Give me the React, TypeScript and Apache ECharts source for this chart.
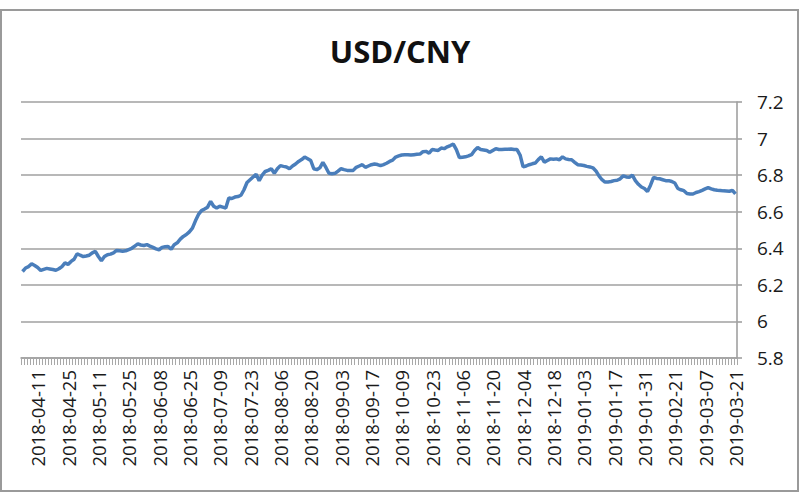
import React, { useEffect, useRef } from "react";
import * as echarts from "echarts";

const START_DATE = "2018-04-02";
const END_DATE = "2019-03-21";
const HOLIDAYS = [
  "2018-04-05", "2018-04-06", "2018-04-30", "2018-05-01", "2018-06-18",
  "2018-09-24", "2018-10-01", "2018-10-02", "2018-10-03", "2018-10-04",
  "2018-10-05", "2018-12-31", "2019-01-01", "2019-02-04", "2019-02-05",
  "2019-02-06", "2019-02-07", "2019-02-08",
];

const usdCny = [
  6.273, 6.292, 6.300, 6.315, 6.306, 6.295, 6.279, 6.285, 6.290, 6.287,
  6.284, 6.280, 6.288, 6.300, 6.320, 6.312, 6.328, 6.340, 6.370, 6.362,
  6.355, 6.358, 6.362, 6.375, 6.383, 6.355, 6.332, 6.355, 6.365, 6.368,
  6.375, 6.388, 6.386, 6.384, 6.386, 6.393, 6.400, 6.412, 6.424, 6.418,
  6.415, 6.420, 6.412, 6.405, 6.397, 6.392, 6.405, 6.408, 6.410, 6.395,
  6.420, 6.430, 6.450, 6.465, 6.475, 6.490, 6.510, 6.550, 6.585, 6.606,
  6.615, 6.625, 6.657, 6.630, 6.620, 6.630, 6.625, 6.620, 6.675, 6.672,
  6.680, 6.683, 6.690, 6.720, 6.760, 6.775, 6.790, 6.805, 6.770, 6.800,
  6.820, 6.826, 6.835, 6.810, 6.835, 6.852, 6.848, 6.845, 6.835, 6.850,
  6.861, 6.875, 6.885, 6.899, 6.890, 6.880, 6.835, 6.830, 6.840, 6.870,
  6.842, 6.810, 6.808, 6.810, 6.822, 6.835, 6.830, 6.826, 6.825, 6.826,
  6.843, 6.850, 6.857, 6.843, 6.850, 6.857, 6.861, 6.858, 6.852, 6.858,
  6.865, 6.875, 6.882, 6.899, 6.905, 6.910, 6.911, 6.912, 6.910, 6.912,
  6.914, 6.915, 6.928, 6.930, 6.920, 6.940, 6.937, 6.935, 6.948, 6.945,
  6.955, 6.962, 6.970, 6.940, 6.896, 6.898, 6.900, 6.905, 6.912, 6.935,
  6.951, 6.940, 6.938, 6.935, 6.925, 6.935, 6.945, 6.940, 6.940, 6.941,
  6.942, 6.943, 6.940, 6.940, 6.910, 6.845, 6.850, 6.857, 6.862, 6.866,
  6.885, 6.900, 6.871, 6.880, 6.889, 6.887, 6.889, 6.884, 6.900, 6.889,
  6.886, 6.884, 6.870, 6.857, 6.855, 6.853, 6.848, 6.845, 6.840, 6.823,
  6.796, 6.775, 6.762, 6.763, 6.765, 6.770, 6.772, 6.780, 6.796, 6.790,
  6.788, 6.800, 6.770, 6.750, 6.735, 6.727, 6.710, 6.745, 6.788, 6.782,
  6.780, 6.775, 6.770, 6.770, 6.765, 6.757, 6.727, 6.720, 6.715, 6.700,
  6.697, 6.697, 6.705, 6.710, 6.717, 6.725, 6.732, 6.725, 6.720, 6.717,
  6.716, 6.714, 6.713, 6.712, 6.717, 6.697,
];

function tradingDays(start: string, end: string, holidays: string[]): string[] {
  const out: string[] = [];
  const d = new Date(start + "T00:00:00Z");
  const e = new Date(end + "T00:00:00Z");
  while (d.getTime() <= e.getTime()) {
    const s = d.toISOString().slice(0, 10);
    const wd = d.getUTCDay();
    if (wd !== 0 && wd !== 6 && holidays.indexOf(s) < 0) out.push(s);
    d.setUTCDate(d.getUTCDate() + 1);
  }
  return out;
}

const dates = tradingDays(START_DATE, END_DATE, HOLIDAYS);

const FONT = "'Open Sans', 'Noto Sans', sans-serif";

export default function App() {
  const ref = useRef<HTMLDivElement>(null);
  useEffect(() => {
    if (!ref.current) return;
    const chart = echarts.init(ref.current, null, { renderer: "svg" });
    chart.setOption({
      animation: false,
      backgroundColor: "#ffffff",
      title: {
        text: "USD/CNY",
        left: "center",
        top: 30,
        textStyle: { fontFamily: FONT, fontSize: 31, fontWeight: "bold", color: "#111" },
      },
      graphic: [
        {
          type: "rect",
          shape: { x: 1, y: 10, width: 797, height: 481 },
          style: { fill: "none", stroke: "#9a9a9a", lineWidth: 2 },
          silent: true,
        },
      ],
      grid: { left: 21, right: 63, top: 102, bottom: 142, containLabel: false },
      xAxis: {
        type: "category",
        data: dates,
        boundaryGap: true,
        axisLine: { show: true, lineStyle: { color: "#a0a0a0", width: 1.6 } },
        axisTick: { show: true, interval: 0, length: 7, lineStyle: { color: "#a8a8a8", width: 1 } },
        axisLabel: {
          interval: (index: number) => (index - 5) % 10 === 0,
          rotate: 90,
          margin: 12,
          fontFamily: FONT,
          fontSize: 18.5,
          color: "#1a1a1a",
        },
        splitLine: { show: false },
      },
      yAxis: {
        type: "value",
        position: "right",
        min: 5.8,
        max: 7.2,
        interval: 0.2,
        axisLine: { show: true, lineStyle: { color: "#a0a0a0", width: 1.6 } },
        axisTick: { show: true, length: 5, lineStyle: { color: "#a0a0a0", width: 1.6 } },
        axisLabel: {
          margin: 20,
          fontFamily: FONT,
          fontSize: 19,
          color: "#1a1a1a",
          formatter: (v: number) => String(Math.round(v * 10) / 10),
        },
        splitLine: { show: true, lineStyle: { color: "#a0a0a0", width: 1.6 } },
      },
      series: [
        {
          type: "line",
          data: usdCny,
          symbol: "none",
          lineStyle: { color: "#4a7ebb", width: 3.5 },
          itemStyle: { color: "#4a7ebb" },
        },
      ],
    });
    return () => chart.dispose();
  }, []);
  return (
    <div
      ref={ref}
      style={{ position: "fixed", left: 0, top: 0, width: 800, height: 500 }}
    />
  );
}
